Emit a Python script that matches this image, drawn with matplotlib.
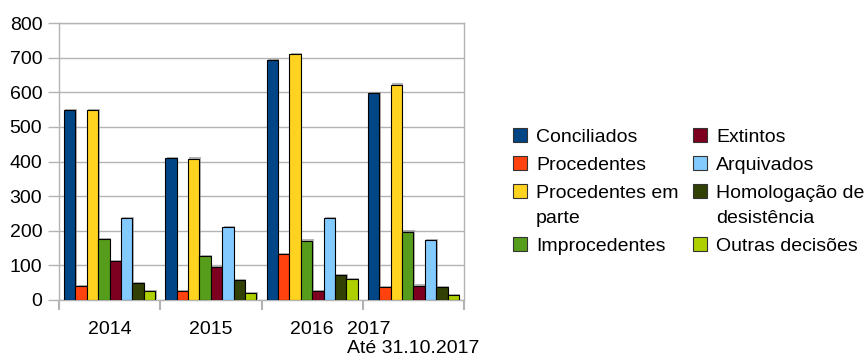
import matplotlib
matplotlib.use("Agg")
import matplotlib.pyplot as plt
import matplotlib.patheffects as pe
from matplotlib.patches import Rectangle
import numpy as np

plt.rcParams['font.family'] = ['Liberation Sans', 'DejaVu Sans']

# Data
years = ["2014", "2015", "2016", "2017\nAté 31.10.2017"]
series_names = ["Conciliados", "Procedentes", "Procedentes em\nparte", "Improcedentes",
                "Extintos", "Arquivados", "Homologação de\ndesistência", "Outras decisões"]
conciliados = [548, 410, 692, 597]
procedentes = [40, 25, 132, 37]
procedentes_em_parte = [548, 408, 710, 622]
improcedentes = [175, 126, 171, 197]
extintos = [112, 95, 25, 41]
arquivados = [236, 211, 237, 173]
homologacao = [48, 58, 71, 37]
outras = [25, 19, 60, 14]
series_values = [conciliados, procedentes, procedentes_em_parte, improcedentes,
                 extintos, arquivados, homologacao, outras]
colors = ["#004586", "#ff420e", "#ffd320", "#579d1c",
          "#7e0021", "#83caff", "#314004", "#aecf00"]
y_ticks = [0, 100, 200, 300, 400, 500, 600, 700, 800]

W, H = 864, 362
fig = plt.figure(figsize=(W / 100, H / 100), dpi=100)
ax = fig.add_axes([59 / W, 1 - 300 / H, (464 - 59) / W, (300 - 23) / H])

grid_c = "#b3b3b3"
fs = 14

n_series = len(series_values)
bar_w = 0.1125
group_pad = (1 - n_series * bar_w) / 2
x0 = np.arange(len(years))
shadow = [pe.SimplePatchShadow(offset=(1, 1), shadow_rgbFace="#808080", alpha=0.6), pe.Normal()]
for j, (vals, c) in enumerate(zip(series_values, colors)):
    xs = x0 + group_pad + (j + 0.5) * bar_w
    bars = ax.bar(xs, vals, width=bar_w, color=c, edgecolor="black", linewidth=0.8, zorder=3)
    for b in bars:
        b.set_path_effects(shadow)

ax.set_xlim(0, len(years))
ax.set_ylim(0, 800)
ax.set_yticks(y_ticks)
ax.set_yticklabels([str(v) for v in y_ticks], fontsize=fs)
ax.yaxis.grid(True, color=grid_c, linewidth=1, zorder=0)
ax.set_axisbelow(True)
ax.tick_params(axis="y", length=8, color=grid_c, width=1, pad=4, labelcolor="black")

ax.set_xticks(np.arange(len(years) + 1))
ax.set_xticklabels([])
ax.tick_params(axis="x", which="major", length=7, color=grid_c, width=1.5)
ax.set_xticks(x0 + 0.5, minor=True)
ax.set_xticklabels(years, minor=True, fontsize=fs, multialignment="left")
ax.tick_params(axis="x", which="minor", length=0, pad=15)

for s in ax.spines.values():
    s.set_color(grid_c)
    s.set_linewidth(1)

# Legend, two columns of four entries
def fx(px):
    return px / W

def fy(py):
    return 1 - py / H

row_y = [135, 163, 191, 244]
col_handle_x = [513, 693]
col_text_x = [536, 716]
box = 14
line_step = 25
for k, (name, c) in enumerate(zip(series_names, colors)):
    col, row = divmod(k, 4)
    yc = row_y[row]
    fig.patches.append(Rectangle((fx(col_handle_x[col]), fy(yc + box / 2)), box / W, box / H,
                                 transform=fig.transFigure, facecolor=c,
                                 edgecolor="#333333", linewidth=0.8))
    for li, line in enumerate(name.split("\n")):
        fig.text(fx(col_text_x[col]), fy(yc + 7 + li * line_step), line, fontsize=fs,
                 va="baseline", ha="left")

fig.savefig("out.png", dpi=100)
